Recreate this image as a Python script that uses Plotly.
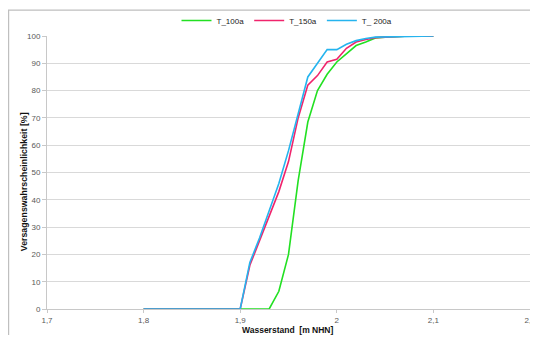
import plotly.graph_objects as go

water_level = [1.80, 1.81, 1.82, 1.83, 1.84, 1.85, 1.86, 1.87, 1.88, 1.89,
               1.90, 1.91, 1.92, 1.93, 1.94, 1.95, 1.96, 1.97, 1.98, 1.99,
               2.00, 2.01, 2.02, 2.03, 2.04, 2.05, 2.06, 2.07, 2.08, 2.09, 2.10]

t_100a = [0, 0, 0, 0, 0, 0, 0, 0, 0, 0,
          0, 0, 0, 0, 6.5, 20, 47, 68.5, 80, 86,
          90.5, 93.5, 96.5, 97.8, 99.3, 99.6, 99.8, 99.9, 99.9, 100, 100]

t_150a = [0, 0, 0, 0, 0, 0, 0, 0, 0, 0,
          0, 16, 25, 34, 43, 54, 70, 82, 85.5, 90.5,
          91.5, 95.5, 97.8, 98.7, 99.4, 99.6, 99.8, 99.9, 99.9, 100, 100]

t_200a = [0, 0, 0, 0, 0, 0, 0, 0, 0, 0,
          0, 17, 26, 36, 46, 58, 72, 85, 90, 95,
          95, 97, 98.3, 99.1, 99.6, 99.7, 99.8, 99.9, 99.9, 100, 100]

series_names = ["T_100a", "T_150a", "T_ 200a"]
series_colors = ["#22E022", "#F0246C", "#25B4EE"]

x_tickvals = [1.7, 1.8, 1.9, 2.0, 2.1, 2.2]
x_ticktext = ["1,7", "1,8", "1,9", "2", "2,1", "2,2"]
y_tickvals = [0, 10, 20, 30, 40, 50, 60, 70, 80, 90, 100]

fig = go.Figure()
for name, ys, col in zip(series_names, [t_100a, t_150a, t_200a], series_colors):
    fig.add_trace(go.Scatter(x=water_level, y=ys, mode="lines", name=name,
                             line=dict(color=col, width=1.6)))

# page body has an 8px margin, so the figure starts at (8, 8) in the window
OFF = 8
W, H = 538 - OFF, 343 - 2 * OFF
L, R, T = 47 - OFF, 8, 35.5 - OFF
B = H - (309 - OFF)
pw = W - L - R
ph = H - T - B

def px_x(px):
    return (px - OFF - L) / pw

def px_y(py):
    return 1 - (py - OFF - T) / ph

fig.update_layout(
    width=W, height=H,
    margin=dict(l=L, r=R, t=T, b=B, pad=0, autoexpand=False),
    paper_bgcolor="white", plot_bgcolor="white",
    font=dict(family="Liberation Sans, Arial, sans-serif", size=8, color="#595959"),
    showlegend=True,
    legend=dict(orientation="h", x=px_x(287), xanchor="center",
                y=px_y(20), yanchor="middle",
                font=dict(size=8, color="#222222"),
                bgcolor="rgba(0,0,0,0)", itemwidth=30,
                tracegroupgap=0),
    xaxis=dict(range=[1.7, 2.2], tickvals=x_tickvals, ticktext=x_ticktext,
               showgrid=False, zeroline=False, showline=True,
               linecolor="#C8C8C8", linewidth=1, automargin=False,
               ticklabeloverflow="allow",
               ticks="outside", ticklen=3, tickcolor="#C8C8C8",
               tickfont=dict(size=8, color="#595959")),
    yaxis=dict(range=[0, 100], tickvals=y_tickvals,
               showgrid=True, gridcolor="#D9D9D9", gridwidth=1,
               zeroline=False, showline=True, automargin=False,
               linecolor="#C8C8C8", linewidth=1,
               ticks="outside", ticklen=4, tickcolor="#C8C8C8",
               tickfont=dict(size=8, color="#595959")),
    shapes=[dict(type="rect", xref="paper", yref="paper",
                 x0=px_x(8.6), x1=1.3, y0=-0.3, y1=px_y(9.5),
                 line=dict(color="#BFBFBF", width=1.2), fillcolor="rgba(0,0,0,0)",
                 layer="below")],
    annotations=[
        dict(text="<b>Wasserstand  [m NHN]</b>", xref="paper", yref="paper",
             x=px_x(287), y=px_y(330), xanchor="center", yanchor="middle",
             showarrow=False, font=dict(size=8.5, color="#111111")),
        dict(text="<b>Versagenswahrscheinlichkeit [%]</b>", xref="paper", yref="paper",
             x=px_x(24), y=px_y(182), xanchor="center", yanchor="middle",
             textangle=-90, showarrow=False, font=dict(size=8.8, color="#111111")),
    ],
)

fig.write_html("out.html")
